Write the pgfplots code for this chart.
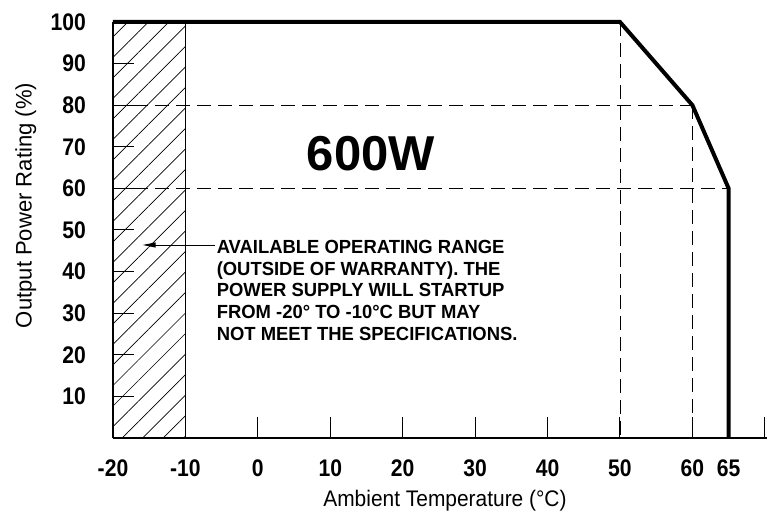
\documentclass[border=0pt]{standalone}
\usepackage{pgfplots}
\pgfplotsset{compat=1.18}
\usepackage{fontspec}
\setmainfont{Liberation Sans}
\newfontfamily\tickfont[FakeStretch=0.88]{Liberation Sans}
\newfontfamily\notefont[FakeStretch=0.97]{Liberation Sans}
\newfontfamily\xlabfont[FakeStretch=0.93]{Liberation Sans}
\newfontfamily\ylabfont[FakeStretch=0.98]{Liberation Sans}
\usetikzlibrary{patterns.meta,arrows.meta}

\begin{document}
\begin{tikzpicture}
\path[use as bounding box] (-113pt,-81pt) rectangle (654pt,438pt);
\begin{axis}[
    scale only axis, width=654pt, height=416pt,
    xmin=-20, xmax=70.3, ymin=0, ymax=100,
    axis x line=bottom, axis y line=left,
    axis line style={-, line width=1.3pt},
    tick align=inside, major tick length=21pt,
    tick style={line width=1pt, black},
    xtick={-20,-10,0,10,20,30,40,50,60,65,70},
    xticklabels={-20,-10,0,10,20,30,40,50,60,65,{}},
    ytick={10,20,30,40,50,60,70,80,90,100},
    yticklabels={10,20,30,40,50,60,70,80,90,100},
    ticklabel style={font=\tickfont\bfseries\fontsize{24}{28}\selectfont, inner sep=0pt},
    xticklabel style={anchor=north, yshift=-21.5pt},
    yticklabel style={anchor=east, xshift=-27pt},
    xlabel={Ambient Temperature (°C)},
    ylabel={Output Power Rating (\%)},
    xlabel style={font=\xlabfont\fontsize{22.5}{26}\selectfont, inner sep=0pt,
        at={(axis description cs:0.5076,-0.165)}, anchor=base},
    ylabel style={font=\ylabfont\fontsize{22.5}{26}\selectfont, inner sep=0pt,
        at={(axis description cs:-0.1243,0.5589)}, anchor=base},
    clip=false,
]
% operating range outside of warranty
\addplot[draw=none, pattern={Lines[angle=45, distance=14.5pt, line width=0.7pt]}]
    coordinates {(-20,0) (-10,0) (-10,100) (-20,100) (-20,0)};
\addplot[black, line width=1.1pt] coordinates {(-10,0) (-10,100)};

% guide lines
\addplot[black, line width=0.9pt, dash pattern=on 14pt off 7pt] coordinates {(-20,80) (60,80)};
\addplot[black, line width=0.9pt, dash pattern=on 14pt off 7pt] coordinates {(-20,60) (65,60)};
\addplot[black, line width=0.9pt, dash pattern=on 14pt off 7pt] coordinates {(50,100) (50,0)};
\addplot[black, line width=0.9pt, dash pattern=on 14pt off 7pt] coordinates {(60,80) (60,0)};

% derating curve
\addplot[black, line width=4pt, line join=miter] coordinates {
    (-20,100) (50,100) (60,80) (65,60) (65,0)
};

\node[anchor=base, inner sep=0pt, font=\bfseries\fontsize{49}{56}\selectfont]
    at (axis cs:15.6,64.4) {600W};
\node[anchor=north west, inner sep=0pt, align=left,
      font=\notefont\bfseries\fontsize{19}{21.7}\selectfont]
    at (axis cs:-5.7,47.6)
    {AVAILABLE OPERATING RANGE\\(OUTSIDE OF WARRANTY). THE\\POWER SUPPLY WILL STARTUP\\FROM -20° TO -10°C BUT MAY\\NOT MEET THE SPECIFICATIONS.};
\draw[line width=0.9pt, -{Triangle[length=13pt, width=5pt]}] (axis cs:-5.9,46.4) -- (axis cs:-15.9,46.4);
\end{axis}
\end{tikzpicture}
\end{document}
